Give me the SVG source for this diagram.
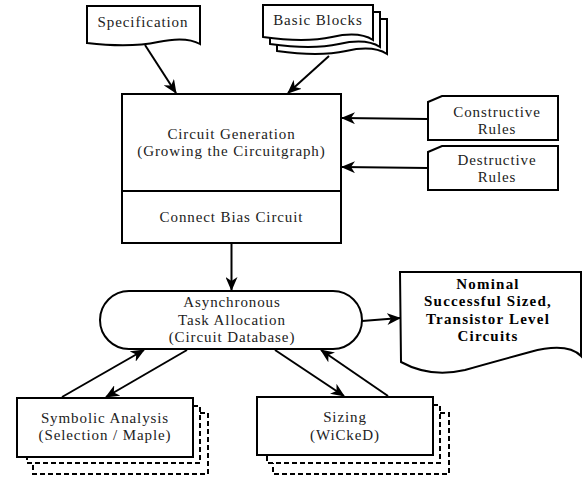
<svg xmlns="http://www.w3.org/2000/svg" width="586" height="481" viewBox="0 0 586 481">
  <style>
    .shape { fill: #fff; stroke: #000; stroke-width: 2; }
    .dash { fill: none; stroke: #000; stroke-width: 2; stroke-dasharray: 5 3; }
    .edge { fill: none; stroke: #000; stroke-width: 2; marker-end: url(#arrow); }
    text { font-family: "Liberation Serif", "DejaVu Serif", serif; font-size: 15px; letter-spacing: 0.9px; fill: #222; text-anchor: middle; }
    .bold { font-weight: bold; fill: #000; letter-spacing: 1.2px; }
  </style>
  <defs>
    <marker id="arrow" markerWidth="14" markerHeight="12" refX="13" refY="6" orient="auto" markerUnits="userSpaceOnUse">
      <path d="M0,0 L14,6 L0,12 L4,6 z" fill="#000"/>
    </marker>
  </defs>
  <rect width="586" height="481" fill="#fff"/>

  <!-- input documents -->
  <g id="specification">
    <path class="shape" d="M87,6 H200 V44 Q186,36 158,42 T87,43 Z"/>
    <text x="143" y="27">Specification</text>
  </g>
  <g id="basic-blocks">
    <path class="shape" d="M277,19 H387 V54 Q373,45 346,51 T277,51 Z"/>
    <path class="shape" d="M270,12 H380 V47 Q366,38 339,44 T270,44 Z"/>
    <path class="shape" d="M263,5 H373 V40 Q359,31 332,37 T263,37 Z"/>
    <text x="318" y="25">Basic Blocks</text>
  </g>

  <!-- generator -->
  <g id="circuit-generation">
    <rect class="shape" x="122" y="94" width="219" height="149"/>
    <line x1="122" y1="191" x2="341" y2="191" stroke="#000" stroke-width="2"/>
    <text x="231.5" y="139">Circuit Generation</text>
    <text x="231.5" y="156">(Growing the Circuitgraph)</text>
    <text x="231.5" y="222">Connect Bias Circuit</text>
  </g>

  <!-- rule cards -->
  <g id="constructive-rules">
    <path class="shape" d="M442,96 H558 V140 H428 V102 Z"/>
    <text x="497" y="117">Constructive</text>
    <text x="497" y="134">Rules</text>
  </g>
  <g id="destructive-rules">
    <path class="shape" d="M442,146 H558 V190 H428 V152 Z"/>
    <text x="497" y="165">Destructive</text>
    <text x="497" y="182">Rules</text>
  </g>

  <!-- task allocation -->
  <g id="task-allocation">
    <rect class="shape" x="100" y="291" width="262" height="58" rx="29" ry="29"/>
    <text x="232" y="307">Asynchronous</text>
    <text x="232" y="325">Task Allocation</text>
    <text x="232" y="342">(Circuit Database)</text>
  </g>

  <!-- result document -->
  <g id="result-circuits">
    <path class="shape" d="M400,272 H581 V356 Q567,342 530,352 Q486,364 465,370 Q430,378 401,362 Z"/>
    <text class="bold" x="488" y="289">Nominal</text>
    <text class="bold" x="488" y="306">Successful Sized,</text>
    <text class="bold" x="488" y="324">Transistor Level</text>
    <text class="bold" x="488" y="341">Circuits</text>
  </g>

  <!-- worker stacks -->
  <g id="symbolic-analysis">
    <path class="dash" d="M193,406 H200 V463 H27 V457"/>
    <path class="dash" d="M200,413 H208 V474 H33 V463"/>
    <rect class="shape" x="17" y="398" width="176" height="59"/>
    <text x="105" y="423">Symbolic Analysis</text>
    <text x="105" y="440">(Selection / Maple)</text>
  </g>
  <g id="sizing">
    <path class="dash" d="M433,405 H440 V463 H267 V455"/>
    <path class="dash" d="M440,413 H449 V474 H273 V463"/>
    <rect class="shape" x="257" y="397" width="176" height="58"/>
    <text x="345" y="422">Sizing</text>
    <text x="345" y="440">(WiCkeD)</text>
  </g>

  <!-- connectors -->
  <g id="connectors">
    <line class="edge" x1="145" y1="45" x2="176" y2="93"/>
    <line class="edge" x1="329" y1="56" x2="288" y2="93"/>
    <line class="edge" x1="428" y1="119" x2="342" y2="118"/>
    <line class="edge" x1="428" y1="168" x2="342" y2="167"/>
    <line class="edge" x1="231.5" y1="243" x2="231.5" y2="290"/>
    <line class="edge" x1="362" y1="321" x2="400" y2="318"/>
    <line class="edge" x1="62" y1="397" x2="144" y2="350"/>
    <line class="edge" x1="187" y1="350" x2="106" y2="397"/>
    <line class="edge" x1="275" y1="350" x2="344" y2="396"/>
    <line class="edge" x1="388" y1="396" x2="321" y2="350"/>
  </g>
</svg>
